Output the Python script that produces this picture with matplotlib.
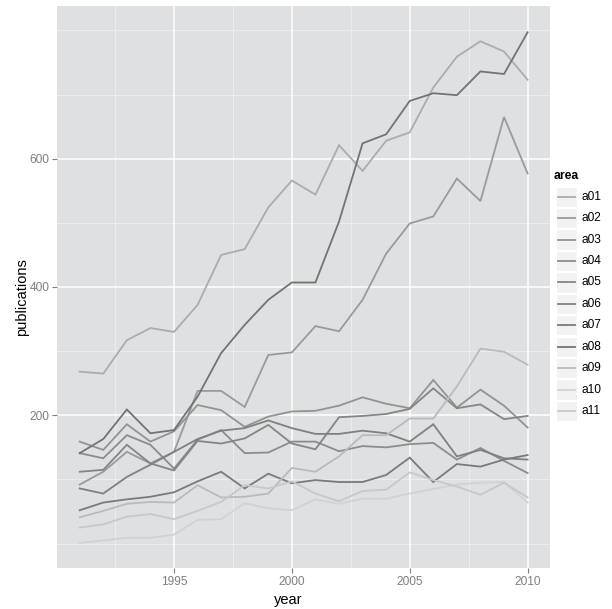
import numpy as np
import matplotlib.pyplot as plt
from matplotlib.patches import Rectangle

# publications per area and year
years = list(range(1991, 2011))
areas = ['a01', 'a02', 'a03', 'a04', 'a05', 'a06', 'a07', 'a08', 'a09', 'a10', 'a11']

a01 = [268, 265, 317, 336, 330, 372, 450, 459, 524, 566, 544, 621, 581, 628, 641, 711, 759, 783, 767, 723]
a02 = [92, 112, 143, 125, 143, 238, 238, 213, 294, 298, 339, 331, 380, 452, 499, 510, 569, 534, 665, 577]
a03 = [159, 146, 186, 159, 175, 216, 208, 182, 198, 206, 207, 215, 228, 218, 211, 255, 212, 240, 215, 181]
a04 = [141, 133, 169, 154, 117, 162, 177, 141, 142, 159, 159, 144, 152, 150, 155, 157, 131, 149, 129, 110]
a05 = [112, 115, 154, 125, 114, 160, 156, 164, 185, 156, 147, 197, 199, 202, 210, 242, 211, 217, 194, 199]
a06 = [86, 78, 104, 123, 143, 163, 176, 180, 192, 180, 171, 171, 176, 172, 159, 186, 136, 146, 133, 131]
a07 = [52, 64, 69, 73, 80, 97, 112, 86, 109, 94, 99, 96, 96, 107, 134, 96, 124, 120, 131, 138]
a08 = [141, 163, 209, 172, 177, 229, 297, 341, 380, 407, 407, 502, 624, 638, 690, 702, 699, 736, 732, 797]
a09 = [41, 51, 62, 65, 64, 91, 72, 73, 78, 118, 112, 136, 169, 169, 195, 195, 245, 304, 299, 279]
a10 = [1, 5, 9, 9, 14, 37, 38, 63, 55, 52, 69, 62, 70, 70, 78, 85, 92, 95, 96, 64]
a11 = [25, 30, 42, 46, 38, 51, 65, 91, 86, 97, 78, 66, 82, 84, 111, 99, 89, 76, 95, 72]

series = [a01, a02, a03, a04, a05, a06, a07, a08, a09, a10, a11]
colours = ['#acacac', '#9a9a9a', '#939393', '#8c8c8c', '#858585', '#808080',
           '#7a7a7a', '#737373', '#bababa', '#d2d2d2', '#c8c8c8']

W, H = 612, 609
fig = plt.figure(figsize=(W / 100, H / 100), dpi=100)
plt.rcParams['font.family'] = ['Liberation Sans', 'DejaVu Sans']

# panel in pixels: left 57, right 550, top 6, bottom 568
ax = fig.add_axes([57.3 / W, 1 - 568.3 / H, (550 - 57.3) / W, (568.3 - 6) / H])
ax.set_facecolor('#dfe0e1')
for s in ax.spines.values():
    s.set_visible(False)

for v in [0, 100, 300, 500, 700, 800]:
    ax.axhline(v, color='#eeeff0', lw=0.6, zorder=0)
for v in [1992.5, 1997.5, 2002.5, 2007.5]:
    ax.axvline(v, color='#eeeff0', lw=0.6, zorder=0)
for v in [200, 400, 600]:
    ax.axhline(v, color='white', lw=1.1, zorder=0)
for v in [1995, 2000, 2005, 2010]:
    ax.axvline(v, color='white', lw=1.1, zorder=0)

for vals, c in zip(series, colours):
    ax.plot(years, vals, color=c, lw=1.3, zorder=2, solid_joinstyle='miter')

ax.set_xlim(1990.05, 2010.95)
ax.set_ylim(-38.5, 838)
ax.set_xticks([1995, 2000, 2005, 2010])
ax.set_yticks([200, 400, 600])
ax.tick_params(colors='#7f7f7f', labelcolor='#7f7f7f', labelsize=8.6,
               length=3.5, width=0.8, pad=2)

fig.text(288 / W, 1 - 600 / H, 'year', ha='center', va='center', fontsize=10.5)
fig.text(22 / W, 1 - 297 / H, 'publications', ha='center', va='center',
         rotation=90, fontsize=10.5)

# legend drawn in pixel coordinates
lg = fig.add_axes([0, 0, 1, 1], facecolor='none')
lg.set_xlim(0, W)
lg.set_ylim(H, 0)
lg.axis('off')
lg.text(554, 176, 'area', ha='left', va='center', fontsize=8.8, fontweight='bold')
for i, (name, c) in enumerate(zip(areas, colours)):
    yc = 196.7 + i * 21.43
    lg.add_patch(Rectangle((556, yc - 10.2), 20.5, 20.4, facecolor='#f2f2f2',
                           edgecolor='white', lw=0.8))
    lg.plot([558, 574.5], [yc, yc], color=c, lw=1.3)
    lg.text(581, yc, name, ha='left', va='center', fontsize=8.6)

fig.savefig('out.png', dpi=100)
